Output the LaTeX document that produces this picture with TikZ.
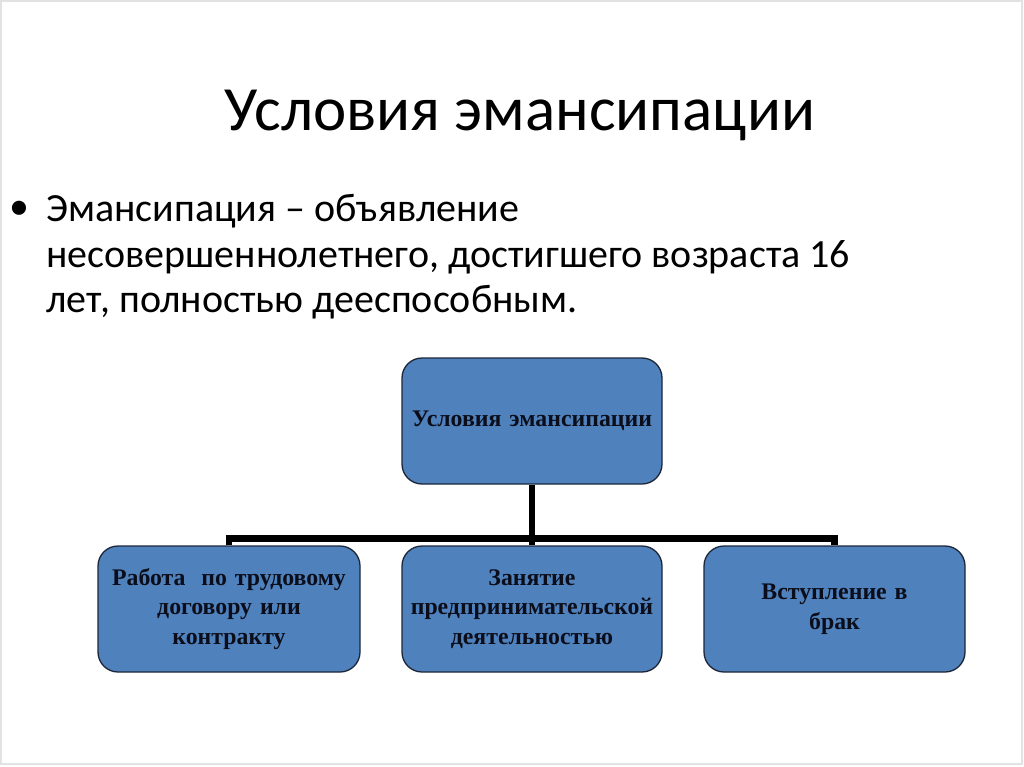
\documentclass[tikz,border=0pt]{standalone}
\usepackage{fontspec}
\setmainfont{Carlito}
\newfontfamily\boxfont{Liberation Serif}
\definecolor{boxblue}{HTML}{4F81BD}
\definecolor{boxedge}{HTML}{1C2638}
\definecolor{frame}{HTML}{E2E2E2}
\definecolor{boxtext}{HTML}{0B0E1A}
\begin{document}
\begin{tikzpicture}[x=1pt,y=-1pt,
  box/.style={draw=boxedge, line width=1.3pt, fill=boxblue, rounded corners=20pt,
    minimum width=260pt, minimum height=126pt, inner sep=1pt, align=center,
    text width=258pt, text=boxtext,
    font=\boxfont\bfseries\fontsize{23.8}{29.5}\selectfont},
  conn/.style={line width=6.5pt, black, line join=miter},
  bodytxt/.style={anchor=base west, inner sep=0pt, font=\fontsize{40}{48}\selectfont}]
\useasboundingbox (0,0) rectangle (1024,767);
\fill[white] (0,0) rectangle (1024,767);
\draw[frame, line width=1.5pt] (1,1) rectangle (1022,764);

\node[anchor=base, inner sep=0pt, font=\fontsize{63}{75}\selectfont] (title) at (520,131) {Условия эмансипации};

\node[anchor=center, inner sep=0pt, font=\fontsize{40}{48}\selectfont] (bul) at (19,210) {•};
\node[bodytxt] (l1) at (46,222) {Эмансипация – объявление};
\node[bodytxt] (l2) at (46,267) {несовершеннолетнего, достигшего возраста 16};
\node[bodytxt] (l3) at (46,312) {лет, полностью дееспособным.};

\node[box] (top) at (532,421) {Условия эмансипации};
\node[box, minimum width=262pt] (c1) at (229,609) {Работа\ \ по трудовому\\договору или\\контракту};
\node[box] (c2) at (532,609) {Занятие\\предпринимательской\\деятельностью};
\node[box, minimum width=261pt] (c3) at (834.5,609) {Вступление в\\брак};

\coordinate (j) at (532,538.5);
\draw[conn] (top.south) -- (j) -- (c2.north);
\draw[conn] (c1.north) -- (c1.north |- j) -- (c3.north |- j) -- (c3.north);
\end{tikzpicture}
\end{document}
